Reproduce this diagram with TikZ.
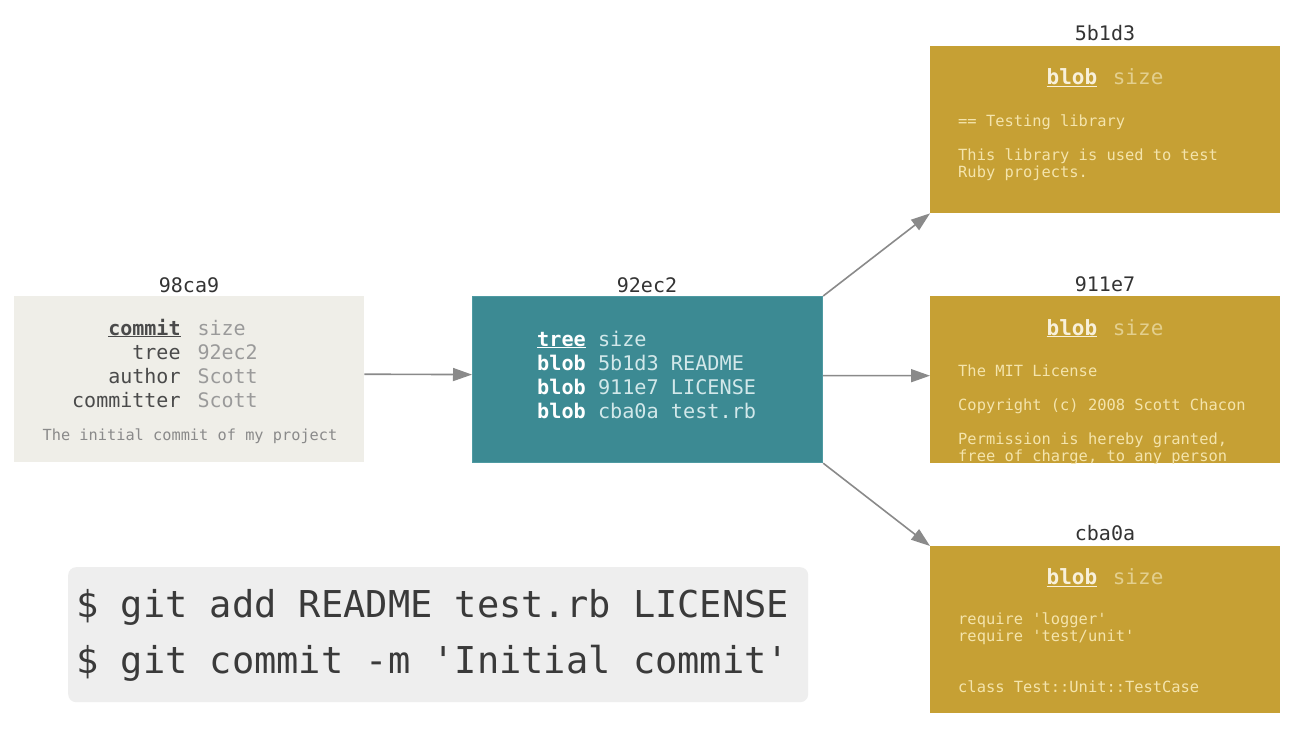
\documentclass[tikz,border=0pt]{standalone}
\usepackage{fontspec}
\setmonofont{DejaVu Sans Mono}
\usetikzlibrary{arrows.meta}
\definecolor{commitfill}{HTML}{EFEEE8}
\definecolor{treefill}{HTML}{3C8A93}
\definecolor{treeedge}{HTML}{4E9AA2}
\definecolor{blobfill}{HTML}{C6A034}
\definecolor{cmdfill}{HTML}{EEEEEE}
\definecolor{keygray}{HTML}{4A4A4A}
\definecolor{valgray}{HTML}{9A9A9A}
\definecolor{msggray}{HTML}{8A8A8A}
\definecolor{treeval}{HTML}{D2E8EA}
\definecolor{blobhead}{HTML}{F8F0DA}
\definecolor{blobsize}{HTML}{E3CF8E}
\definecolor{blobtext}{HTML}{F4E4AC}
\definecolor{arrowgray}{HTML}{8A8A8A}
\definecolor{lblcolor}{HTML}{333333}
\definecolor{cmdtext}{HTML}{3A3A3A}
\begin{document}
\begin{tikzpicture}[x=1pt,y=-1pt,
  box/.style={anchor=north west, inner sep=0pt, minimum width=350pt, minimum height=166pt},
  commitbox/.style={box, fill=commitfill},
  treebox/.style={box, fill=treefill, draw=treeedge, line width=1.2pt},
  blobbox/.style={box, fill=blobfill, minimum height=167pt},
  lbl/.style={anchor=base, inner sep=0pt, text=lblcolor, font=\ttfamily\fontsize{20}{24}\selectfont},
  txt/.style={anchor=base west, inner sep=0pt},
  blobhd/.style={anchor=base, inner sep=0pt, text=blobhead, font=\ttfamily\fontsize{21}{24}\selectfont},
  blobbody/.style={txt, text=blobtext, font=\ttfamily\fontsize{15.4}{17}\selectfont},
  arr/.style={draw=arrowgray, line width=1.6pt, -{Triangle[length=19pt,width=13pt]}}
]
\useasboundingbox (0,0) rectangle (1298,738);
\fill[white] (0,0) rectangle (1298,738);

% boxes
\node[commitbox] (commit) at (14,296) {};
\node[treebox] (tree) at (472,296) {};
\node[blobbox] (blobA) at (930,46) {};
\node[blobbox] (blobB) at (930,296) {};
\node[blobbox] (blobC) at (930,546) {};

% labels above
\node[lbl] (commitlbl) at (189,292) {98ca9};
\node[lbl] (treelbl) at (647,292) {92ec2};
\node[lbl] (blobAlbl) at (1105,41) {5b1d3};
\node[lbl] (blobBlbl) at (1105,291) {911e7};
\node[lbl] (blobClbl) at (1105,540) {cba0a};

% commit content
\node[txt, font=\ttfamily\fontsize{20}{24}\selectfont] (committext) at (72,335)
  {\begin{tabular}[t]{@{}r@{\hspace{17pt}}l@{}}
   \textcolor{keygray}{\underline{\textbf{commit}}} & \textcolor{valgray}{size}\\
   \textcolor{keygray}{tree} & \textcolor{valgray}{92ec2}\\
   \textcolor{keygray}{author} & \textcolor{valgray}{Scott}\\
   \textcolor{keygray}{committer} & \textcolor{valgray}{Scott}
   \end{tabular}};
\node[anchor=base, inner sep=0pt, text=msggray, font=\ttfamily\fontsize{15.3}{17}\selectfont] (commitmsg) at (190,440)
  {The initial commit of my project};

% tree content
\node[txt, font=\ttfamily\fontsize{20.2}{24}\selectfont] (treetext) at (537,346)
  {\begin{tabular}[t]{@{}l@{}}
   \textcolor{white}{\underline{\textbf{tree}}} \textcolor{treeval}{size}\\
   \textcolor{white}{\textbf{blob}} \textcolor{treeval}{5b1d3 README}\\
   \textcolor{white}{\textbf{blob}} \textcolor{treeval}{911e7 LICENSE}\\
   \textcolor{white}{\textbf{blob}} \textcolor{treeval}{cba0a test.rb}
   \end{tabular}};

% blob headings
\node[blobhd] (blobAhd) at (1105,85) {\underline{\textbf{blob}}~\hspace{3pt}\textcolor{blobsize}{size}};
\node[blobhd] (blobBhd) at (1105,335) {\underline{\textbf{blob}}~\hspace{3pt}\textcolor{blobsize}{size}};
\node[blobhd] (blobChd) at (1105,584) {\underline{\textbf{blob}}~\hspace{3pt}\textcolor{blobsize}{size}};

% blob bodies
\node[blobbody] (blobAbody) at (958,127)
  {\begin{tabular}[t]{@{}l@{}}
   == Testing library\\
   \\
   This library is used to test\\
   Ruby projects.
   \end{tabular}};
\begin{scope}
  \clip (blobB.north west) rectangle (blobB.south east);
  \node[blobbody] (blobBbody) at (958,376)
  {\begin{tabular}[t]{@{}l@{}}
   The MIT License\\
   \\
   Copyright (c) 2008 Scott Chacon\\
   \\
   Permission is hereby granted,\\
   free of charge, to any person
   \end{tabular}};
\end{scope}
\node[blobbody] (blobCbody) at (958,624)
  {\begin{tabular}[t]{@{}l@{}}
   require 'logger'\\
   require 'test/unit'\\
   \\
   \\
   class Test::Unit::TestCase
   \end{tabular}};

% arrows
\draw[arr] ([yshift=5pt]commit.east) -- ([yshift=5pt]tree.west);
\draw[arr] (tree.north east) -- (blobA.south west);
\draw[arr] ([yshift=4pt]tree.east) -- ([yshift=4pt]blobB.west);
\draw[arr] (tree.south east) -- (blobC.north west);

% command box
\node[anchor=north west, inner sep=0pt, fill=cmdfill, rounded corners=8pt,
      minimum width=740pt, minimum height=135pt] (cmdbox) at (68,567) {};
\node[txt, text=cmdtext, font=\ttfamily\fontsize{37}{56}\selectfont] (cmdtext) at (76,617)
  {\begin{tabular}[t]{@{}l@{}}
   \$ git add README test.rb LICENSE\\
   \$ git commit -m 'Initial commit'
   \end{tabular}};
\end{tikzpicture}
\end{document}
